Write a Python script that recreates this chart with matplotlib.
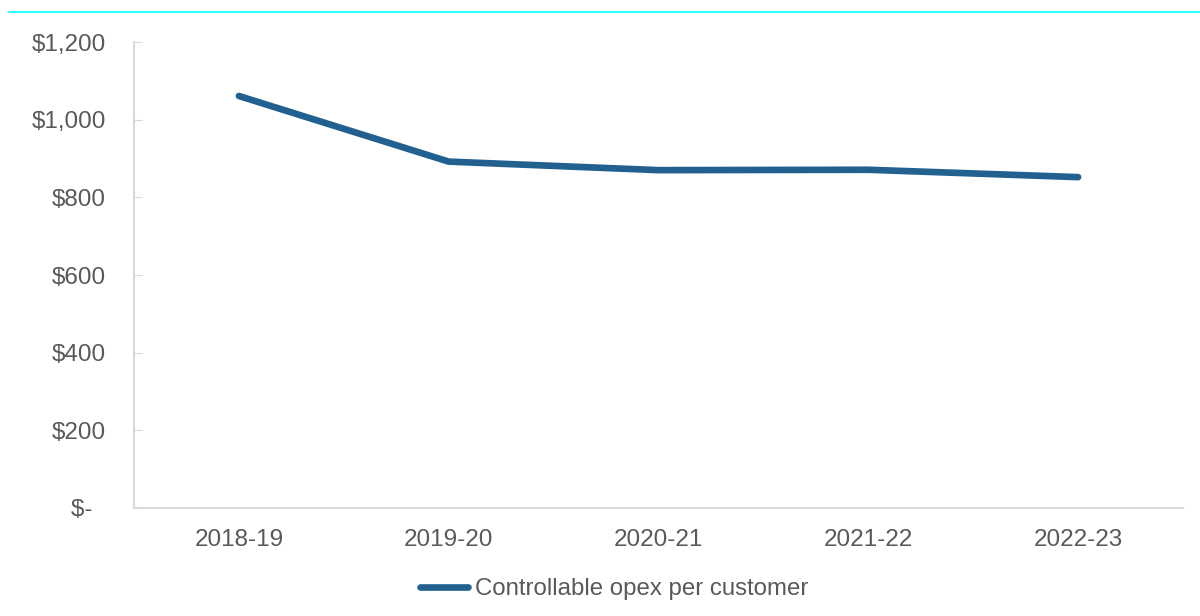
import matplotlib
matplotlib.use("Agg")
from matplotlib import pyplot as plt
from matplotlib.ticker import FuncFormatter

# data
years = ["2018-19", "2019-20", "2020-21", "2021-22", "2022-23"]
opex_per_customer = [1061, 892, 870, 871, 852]
y_ticks = [0, 200, 400, 600, 800, 1000, 1200]

plt.rcParams["font.family"] = ["Liberation Sans", "DejaVu Sans"]
txt = "#595959"
grey = "#D9D9D9"

fig = plt.figure(figsize=(12, 6.16), dpi=100)
ax = fig.add_axes([134 / 1200, 1 - 508 / 616, (1183 - 134) / 1200, (508 - 42) / 616])

x = range(len(years))
ax.plot(x, opex_per_customer, color="#22618F", lw=4.8, solid_capstyle="round",
        solid_joinstyle="round", label="Controllable opex per customer")

ax.set_xlim(-0.5, len(years) - 0.5)
ax.set_ylim(0, 1200)
ax.set_xticks(list(x))
ax.set_xticklabels(years)
ax.set_yticks(y_ticks)


def money(v, pos):
    # accounting style: zero shows as a dash with trailing space
    if v == 0:
        return "$-  "
    return "${:,.0f}".format(v)


ax.yaxis.set_major_formatter(FuncFormatter(money))
ax.tick_params(axis="y", direction="in", length=6, color=grey, labelsize=17.5,
               labelcolor=txt, pad=20)
ax.tick_params(axis="x", length=0, labelsize=17.5, labelcolor=txt, pad=15)

for side in ["top", "right"]:
    ax.spines[side].set_visible(False)
for side in ["left", "bottom"]:
    ax.spines[side].set_color(grey)
    ax.spines[side].set_linewidth(1.5)

# cyan rule across the top
fig.add_artist(plt.Line2D([9 / 1200, 1], [1 - 12 / 616, 1 - 12 / 616],
                          color="#00FFFF", lw=1.2, transform=fig.transFigure))

fig.legend(loc="center", bbox_to_anchor=(0.512, 1 - 589 / 616), frameon=False,
           fontsize=17.3, labelcolor=txt, handlelength=2.0, handletextpad=0.3)

fig.savefig("out.png", dpi=100)
